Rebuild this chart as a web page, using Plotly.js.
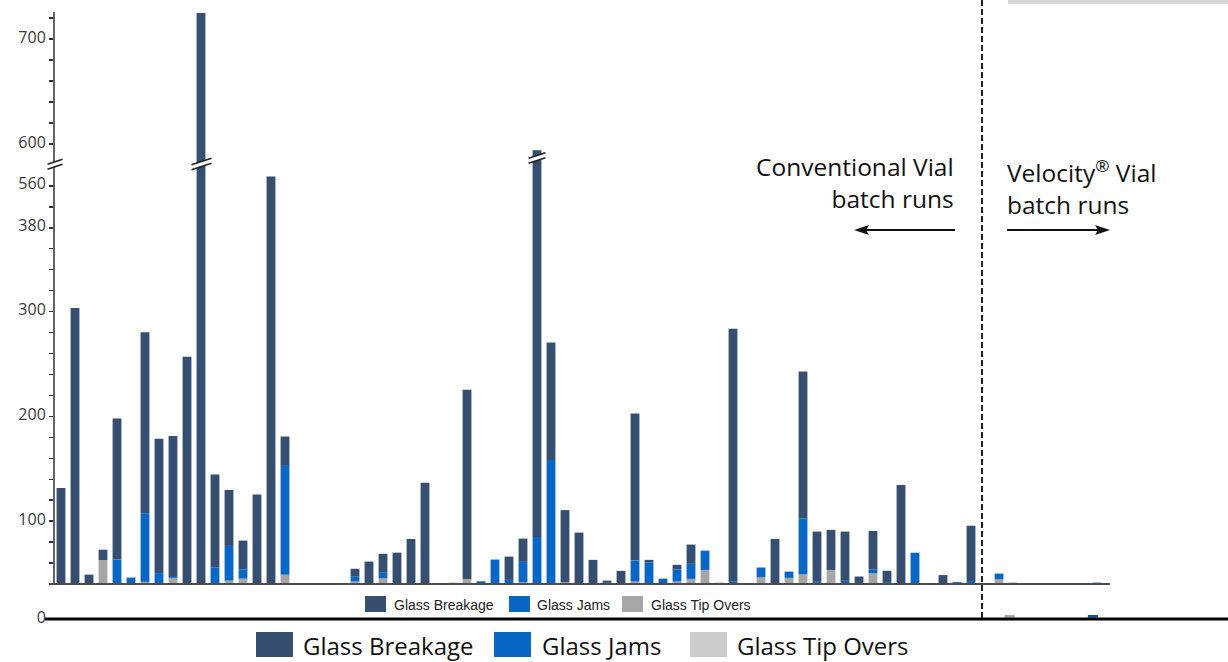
<!DOCTYPE html>
<html>
<head>
<meta charset="utf-8">
<script src="https://cdn.plot.ly/plotly-3.0.1.min.js"></script>
<style>html,body{margin:0;padding:0;background:#fff;}#chart{width:1228px;height:662px;}</style>
</head>
<body>
<div id="chart"></div>
<script>
// ---- data ----
var runs = Array.from({length: 75}, function (_, i) { return 'Run ' + (i + 1); });
var seriesNames = ['Glass Breakage', 'Glass Jams', 'Glass Tip Overs'];
var breakage = [91.6, 263.5, 8, 9.8, 134.5, 0, 172.7, 128.2, 133.6, 217, 545, 88.5, 53.4, 27.4, 85.4, 389, 28,
  0, 0, 0, 0, 7.6, 21.5, 17.5, 30, 43, 96.8, 0, 0, 180.6, 0, 0, 22.2, 22.2, 369, 112, 68.9, 49.1, 23.1, 1.4,
  12.6, 140.3, 2.3, 0, 4.5, 18.4, 0, 0, 241, 0, 0, 43, 0, 140, 47.4, 38.2, 47, 7.2, 36.9, 10.8, 94.5, 0, 0,
  8.6, 0, 52.8, 0, 0, 0, 0, 0, 0, 0, 0, 0];
var jams = [0, 0, 0, 0, 23.4, 6.2, 65.5, 9.5, 1.9, 0, 0, 16, 33.1, 8.9, 0, 0, 104,
  0, 0, 0, 0, 4.5, 0, 5.7, 0, 0, 0, 0, 0, 0, 2.7, 23.4, 4, 19.5, 45, 118.5, 0, 0, 0, 1.9,
  0, 20, 20.8, 5.2, 11.5, 14.3, 18.4, 0, 2.7, 0, 9.3, 0, 6, 53.4, 2.7, 0, 3.1, 0, 3.5, 1.9, 0, 29.9, 0,
  0, 1.9, 2.9, 0, 5.2, 0, 0, 0, 0, 0, 0, 1.4];
var tipOvers = [0, 0, 1, 23, 0, 0, 2.1, 1, 5.9, 0, 0, 0, 3.3, 5.2, 0, 0, 8.8,
  0, 0, 0, 0, 2.5, 0, 5.7, 0, 0, 0, 0, 1.4, 4.8, 0, 0, 0, 1.7, 0, 0, 1.7, 0, 0, 0,
  0, 2.4, 0, 0, 2.4, 5, 13.5, 1.4, 0, 0, 6.5, 0, 5.9, 9.4, 0, 13.5, 0, 0, 10.3, 0, 0, 0, 0,
  0, 0, 0, 0, 4.8, 1.6, 0, 0, 0, 0, 0, 0];
// small bars resting on the outer zero line (Velocity runs)
var outerTipRuns = ['Run 69'];
var outerTipOvers = [2.6];
var outerJamRuns = ['Run 75'];
var outerJams = [2.6];
// y-axis ticks (broken axis)
var tickVals = [6.7, 40, 60, 80, 100, 120, 140, 160, 180, 200, 220, 240, 260, 280, 300, 320, 340, 360, 380, 400, 420, 460, 480, 500, 520, 540, 560, 580];
var tickText = ['0', '', '', '', '100', '', '', '', '', '200', '', '', '', '', '300', '', '', '', '380', '', '560', '600', '', '', '', '', '700', ''];

// ---- styling ----
var C_BREAK = '#364e6f', C_JAM = '#0866c4', C_TIP = '#a6a6a6', C_TIP_BIG = '#cccccc';
var L = 54, W = 1174, H = 626;
function X(px) { return (px - L) / W; }
function Y(py) { return (H - py) / H; }
var SCALE = 1.048;      // px per unit
var INNER_BASE = 40;    // inner chart baseline on the axis
var OUTER_BASE = 7.92;  // top of the outer zero line

var baseTip = tipOvers.map(function () { return INNER_BASE; });
var baseJam = tipOvers.map(function (t) { return INNER_BASE + t; });
var baseBreak = tipOvers.map(function (t, i) { return INNER_BASE + t + jams[i]; });

var traces = [
  {type: 'bar', x: runs, y: tipOvers, base: baseTip, name: seriesNames[2], marker: {color: C_TIP, line: {width: 0}}, width: 0.63},
  {type: 'bar', x: runs, y: jams, base: baseJam, name: seriesNames[1], marker: {color: C_JAM, line: {width: 0}}, width: 0.63},
  {type: 'bar', x: runs, y: breakage, base: baseBreak, name: seriesNames[0], marker: {color: C_BREAK, line: {width: 0}}, width: 0.63},
  {type: 'bar', x: outerTipRuns, y: outerTipOvers, base: OUTER_BASE, name: seriesNames[2], marker: {color: C_TIP, line: {width: 0}}, width: 0.72, offset: -0.6},
  {type: 'bar', x: outerJamRuns, y: outerJams, base: OUTER_BASE, name: seriesNames[1], marker: {color: '#0b4fa8', line: {width: 0}}, width: 0.72, offset: -0.65}
];

var shapes = [];
function line(x0, y0, x1, y1, color, width, dash) {
  shapes.push({type: 'line', xref: 'paper', yref: 'paper', x0: X(x0), y0: Y(y0), x1: X(x1), y1: Y(y1),
    line: {color: color, width: width, dash: dash || 'solid'}});
}
function rect(x0, y0, x1, y1, color) {
  shapes.push({type: 'rect', xref: 'paper', yref: 'paper', x0: X(x0), y0: Y(y0), x1: X(x1), y1: Y(y1),
    fillcolor: color, line: {width: 0}});
}
function poly(pts, color) {
  shapes.push({type: 'path', xref: 'paper', yref: 'paper',
    path: 'M' + pts.map(function (q) { return X(q[0]) + ',' + Y(q[1]); }).join('L') + 'Z',
    fillcolor: color, line: {width: 0}});
}
function brk(cx, cy, w) {
  var hw = w / 2, r = w / 3, g = 2.5;
  var p = [[cx - hw, cy - g + r / 2], [cx + hw, cy - g - r / 2], [cx + hw, cy + g - r / 2], [cx - hw, cy + g + r / 2]];
  poly(p, '#ffffff');
  line(p[0][0], p[0][1], p[1][0], p[1][1], '#222', 1.5);
  line(p[3][0], p[3][1], p[2][0], p[2][1], '#222', 1.5);
}
function arrow(tail, head, y) {
  var dir = head > tail ? 1 : -1, hl = 15, hh = 5;
  line(tail, y, head - dir * (hl - 3), y, '#111', 2);
  poly([[head, y], [head - dir * hl, y - hh], [head - dir * (hl - 3), y], [head - dir * hl, y + hh]], '#111');
}
line(54, 584, 54, 12, '#333', 1.5);
line(50, 584, 1110, 584, '#4d4d4d', 2);
line(45, 619, 1228, 619, '#000', 3);
line(982, 0, 982, 619, '#222', 2, '6px,3px');
rect(1008, 0, 1228, 4, '#d4d4d4');
brk(55, 164.3, 15);
brk(201.5, 164, 20);
brk(537, 158, 17);
arrow(955, 854, 230);
arrow(1007, 1110, 230);

var annotations = [];
var smallLeg = [[365, 392, C_BREAK], [509, 535, C_JAM], [622, 649, C_TIP]];
smallLeg.forEach(function (s, i) {
  rect(s[0], 596, s[0] + 21, 612, s[2]);
  annotations.push({xref: 'paper', yref: 'paper', x: X(s[1]), y: Y(604.5), xanchor: 'left', yanchor: 'middle',
    text: seriesNames[i], showarrow: false, font: {family: 'Liberation Sans, Arial, sans-serif', size: 14, color: '#222'}});
});
var bigLeg = [[256, 301, C_BREAK], [494, 540, C_JAM], [690, 735, C_TIP_BIG]];
bigLeg.forEach(function (s, i) {
  rect(s[0], 632, s[0] + 37, 657, s[2]);
  annotations.push({xref: 'paper', yref: 'paper', x: X(s[1]), y: Y(645), xanchor: 'left', yanchor: 'middle',
    text: seriesNames[i], showarrow: false, font: {family: 'Open Sans, sans-serif', size: 24, color: '#111'}});
});
annotations.push({xref: 'paper', yref: 'paper', x: X(956), y: Y(183), xanchor: 'right', yanchor: 'middle', align: 'right',
  text: 'Conventional Vial<br>batch runs', showarrow: false, font: {family: 'Open Sans, sans-serif', size: 24.5, color: '#111'}});
annotations.push({xref: 'paper', yref: 'paper', x: X(1005), y: Y(187), xanchor: 'left', yanchor: 'middle', align: 'left',
  text: 'Velocity<sup>®</sup> Vial<br>batch runs', showarrow: false, font: {family: 'Open Sans, sans-serif', size: 24.5, color: '#111'}});

var layout = {
  width: 1228, height: 662,
  margin: {l: L, r: 0, t: 0, b: 662 - H, pad: 0},
  paper_bgcolor: '#fff', plot_bgcolor: '#fff',
  barmode: 'overlay',
  showlegend: false,
  xaxis: {type: 'category', range: [-0.5, -0.5 + W / 14], showticklabels: false, showgrid: false, zeroline: false, showline: false, ticks: ''},
  yaxis: {range: [0, H / SCALE], autorange: false, tickmode: 'array', tickvals: tickVals, ticktext: tickText, ticks: 'outside', ticklen: 4,
    tickwidth: 1.5, tickcolor: '#333', showgrid: false, zeroline: false, showline: false, ticklabelshift: -2,
    tickfont: {family: 'Open Sans, sans-serif', size: 16, color: '#3a3a3a'}},
  shapes: shapes,
  annotations: annotations
};
Plotly.newPlot('chart', traces, layout, {displayModeBar: false, staticPlot: true});
</script>
</body>
</html>
